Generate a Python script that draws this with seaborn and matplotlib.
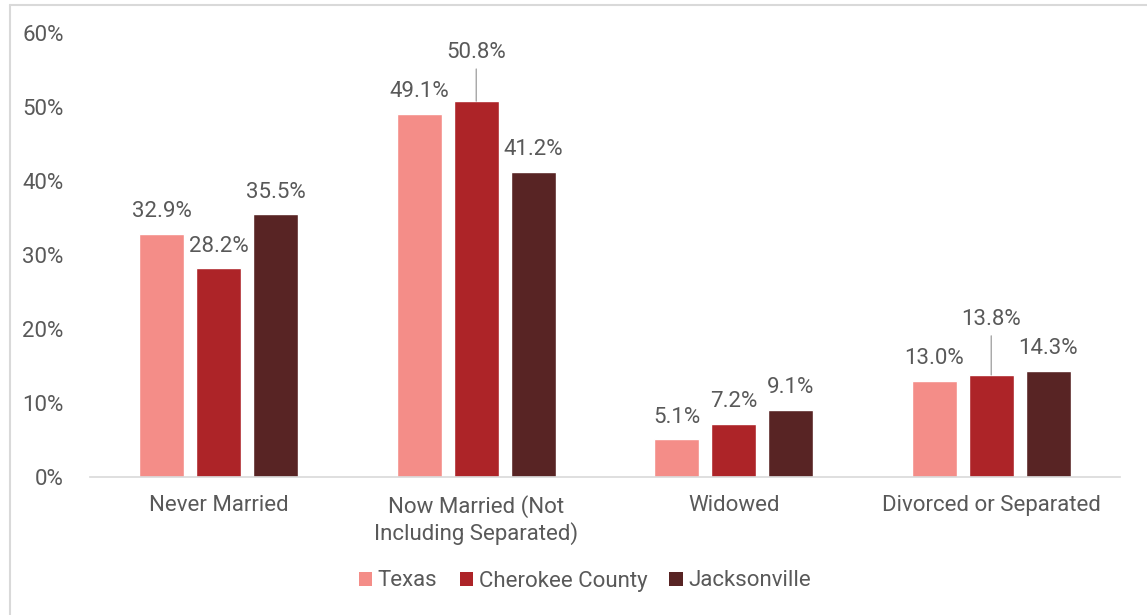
import matplotlib
matplotlib.use("Agg")
import matplotlib.pyplot as plt
import seaborn as sns
import pandas as pd
from matplotlib.lines import Line2D
from matplotlib.patches import Patch

categories = ["Never Married", "Now Married (Not\nIncluding Separated)", "Widowed", "Divorced or Separated"]
series = ["Texas", "Cherokee County", "Jacksonville"]
texas = [32.9, 49.1, 5.1, 13.0]
cherokee = [28.2, 50.8, 7.2, 13.8]
jacksonville = [35.5, 41.2, 9.1, 14.3]
yticks = [0, 10, 20, 30, 40, 50, 60]

colors = ["#F48D88", "#AD2428", "#582424"]
text_color = "#595959"
fs = 16

rows = []
for name, vals in zip(series, [texas, cherokee, jacksonville]):
    for cat, v in zip(categories, vals):
        rows.append({"category": cat, "series": name, "value": v})
df = pd.DataFrame(rows)

sns.set_theme(style="white")
plt.rcParams["font.family"] = ["Roboto", "DejaVu Sans"]

fig = plt.figure(figsize=(11.47, 6.15), dpi=100)
ax = fig.add_axes([90 / 1147, 1 - 477 / 615, 1030 / 1147, 444 / 615])

sns.barplot(data=df, x="category", y="value", hue="series", order=categories,
            hue_order=series, palette=colors, width=0.664, gap=0.21,
            saturation=1, errorbar=None, legend=False, ax=ax)

ax.set_xlim(-0.5, 3.5)
ax.set_ylim(0, 60)
ax.set_yticks(yticks)
ax.set_yticklabels([f"{t}%" for t in yticks])
ax.set_xlabel("")
ax.set_ylabel("")
ax.tick_params(axis="both", length=0, labelsize=fs, colors=text_color)
ax.tick_params(axis="y", pad=19)
ax.tick_params(axis="x", pad=13)
for lbl in ax.get_xticklabels():
    lbl.set_linespacing(1.2)
for s in ["top", "right", "left"]:
    ax.spines[s].set_visible(False)
ax.spines["bottom"].set_color("#D9D9D9")
ax.spines["bottom"].set_linewidth(1.2)

# value labels; two Cherokee County labels sit higher with a leader line
leader = {(1, 1): 35, (3, 1): 40}
for si, cont in enumerate(ax.containers):
    for ci, bar in enumerate(cont):
        v = bar.get_height()
        xc = bar.get_x() + bar.get_width() / 2
        if (ci, si) in leader:
            ax.annotate(f"{v:.1f}%", xy=(xc, v), xytext=(0, leader[(ci, si)]),
                        textcoords="offset points", ha="center", va="center",
                        fontsize=fs, color=text_color,
                        arrowprops=dict(arrowstyle="-", color="#A6A6A6", lw=1.0,
                                        shrinkA=2, shrinkB=0))
        else:
            ax.annotate(f"{v:.1f}%", xy=(xc, v), xytext=(0, 16), textcoords="offset points",
                        ha="center", va="center", fontsize=fs, color=text_color)

handles = [Patch(facecolor=c, edgecolor="none") for c in colors]
fig.legend(handles, series, loc="center", bbox_to_anchor=(585 / 1147, 1 - 581 / 615),
           ncol=3, frameon=False, fontsize=fs, handlelength=0.6, handleheight=0.6,
           handletextpad=0.25, columnspacing=1.0, labelcolor=text_color)

# chart frame (top and left edges)
fig.add_artist(Line2D([10 / 1147, 1.0], [1 - 5 / 615, 1 - 5 / 615], color="#D9D9D9", lw=1.5))
fig.add_artist(Line2D([10 / 1147, 10 / 1147], [0, 1 - 5 / 615], color="#D9D9D9", lw=1.5))

fig.savefig("out.png", dpi=100)
